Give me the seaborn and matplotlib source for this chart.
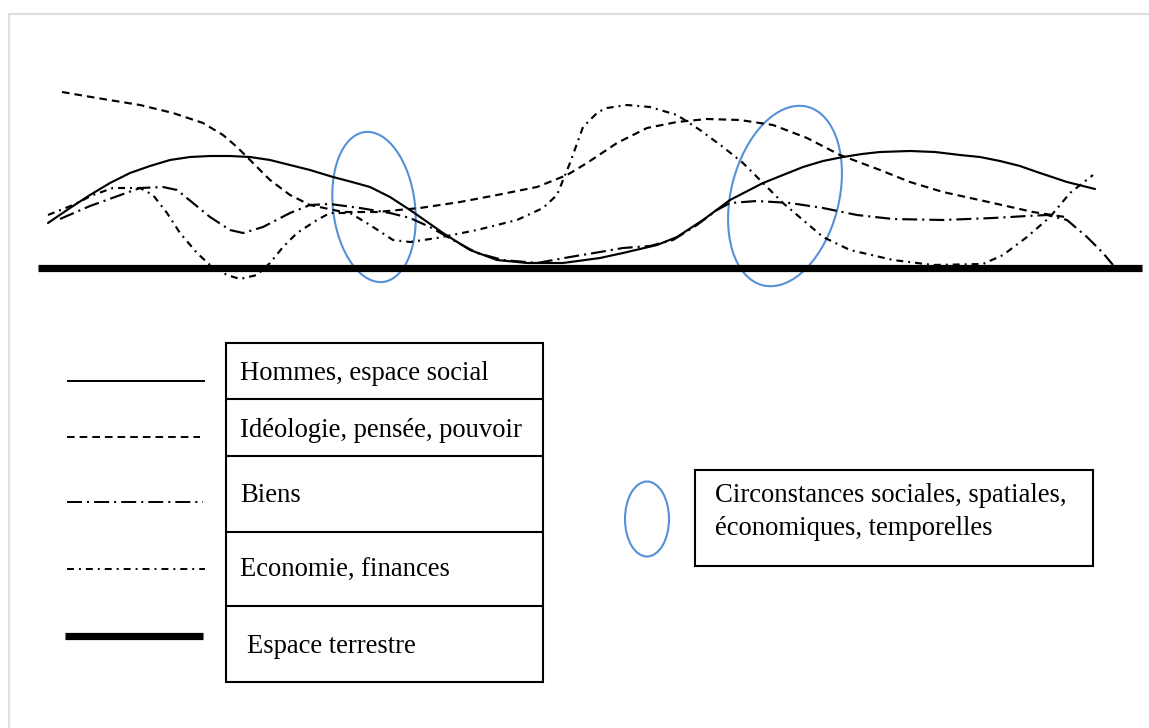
import numpy as np
import pandas as pd
import matplotlib
matplotlib.use("Agg")
import matplotlib.pyplot as plt
from matplotlib.patches import Ellipse, Rectangle
import seaborn as sns

# curve points (pixel coords, y downwards)
hommes_x = [48, 70, 90, 110, 130, 150, 170, 190, 210, 230, 250, 270, 290, 310, 333, 352, 370,
            390, 413, 443, 470, 497, 527, 563, 600, 623, 657, 677, 703, 730, 763, 783, 803, 823,
            843, 862, 880, 910, 935, 960, 980, 1000, 1020, 1037, 1067, 1095]
hommes_y = [223, 208, 195, 183, 173, 166, 160, 157, 156, 156, 157, 160, 165, 170, 177, 182, 187,
            197, 212, 233, 250, 260, 263, 263, 258, 253, 245, 237, 220, 200, 183, 175, 167, 161,
            157, 154, 152, 151, 152, 155, 157, 161, 166, 172, 182, 189]

ideo_x = [62, 97, 140, 173, 203, 223, 237, 250, 270, 290, 310, 343, 377, 420, 460, 497, 537,
          567, 587, 617, 647, 677, 707, 740, 773, 807, 840, 880, 910, 943, 993, 1033, 1065]
ideo_y = [92, 98, 105, 113, 123, 135, 147, 160, 180, 195, 205, 212, 212, 208, 202, 195, 187,
          175, 163, 143, 128, 122, 119, 120, 125, 138, 155, 170, 182, 192, 203, 212, 217]

biens_x = [60, 90, 115, 140, 163, 177, 193, 210, 230, 243, 263, 290, 310, 330, 360, 390, 410,
           430, 453, 477, 503, 537, 570, 600, 623, 650, 673, 697, 717, 730, 757, 790, 823, 857,
           893, 943, 993, 1027, 1047, 1067, 1087, 1103, 1113]
biens_y = [219, 206, 197, 188, 187, 190, 203, 217, 230, 233, 227, 213, 205, 204, 208, 213, 218,
           227, 240, 253, 260, 263, 257, 252, 248, 246, 240, 225, 210, 203, 201, 203, 208, 215,
           219, 220, 218, 216, 215, 220, 237, 253, 265]

eco_x = [48, 73, 93, 113, 140, 153, 167, 180, 197, 210, 227, 240, 257, 270, 283, 297, 317, 330,
         350, 370, 393, 410, 437, 477, 517, 543, 557, 570, 583, 598, 607, 627, 650, 677, 700,
         723, 743, 763, 783, 803, 823, 850, 893, 933, 983, 1003, 1027, 1050, 1070, 1093]
eco_y = [215, 205, 195, 188, 188, 195, 213, 233, 253, 265, 275, 279, 275, 263, 247, 233, 220, 213,
         213, 225, 240, 242, 238, 230, 220, 208, 195, 163, 127, 112, 108, 105, 107, 115, 130,
         147, 163, 183, 203, 220, 237, 250, 260, 265, 264, 255, 237, 217, 193, 175]

ground_x = [38, 1142]
ground_y = [268, 268]

labels = ["Hommes, espace social", "Idéologie, pensée, pouvoir", "Biens",
          "Economie, finances", "Espace terrestre"]
circ_lines = ["Circonstances sociales, spatiales,", "économiques, temporelles"]

sns.set_style("white")
plt.rcParams["font.family"] = ["Liberation Serif", "DejaVu Serif"]
plt.rcParams["lines.scale_dashes"] = False
plt.rcParams["text.color"] = "black"

fig = plt.figure(figsize=(11.49, 7.28), dpi=100)
ax = fig.add_axes([0, 0, 1, 1])

dash_ideo = (0, (5.5, 3.6))
dash_biens = (0, (10.8, 3.6, 1.5, 3.6))
dash_eco = (0, (5.0, 3.6, 1.4, 3.6))
styles = ["-", dash_ideo, dash_biens, dash_eco]

series = [(hommes_x, hommes_y), (ideo_x, ideo_y), (biens_x, biens_y), (eco_x, eco_y)]
for (xs, ys), ls in zip(series, styles):
    df = pd.DataFrame({"x": xs, "y": ys})
    sns.lineplot(data=df, x="x", y="y", ax=ax, color="black", linewidth=1.55,
                 linestyle=ls, estimator=None, sort=False)

sns.lineplot(x=ground_x, y=ground_y, ax=ax, color="black", linewidth=5.2,
             solid_capstyle="butt", estimator=None)
ax.set_xlim(0, 1149)
ax.set_ylim(728, 0)
ax.axis("off")

# circumstance ellipses
blue = "#5590d8"
ax.add_patch(Ellipse((374, 207), 82, 151, angle=-7, fill=False, ec=blue, lw=1.5))
ax.add_patch(Ellipse((785, 196), 108, 184, angle=14, fill=False, ec=blue, lw=1.5))

# grey page border
ax.plot([9, 9, 1149], [728, 14, 14], color="#dedede", lw=1.6, solid_capstyle="butt")

# legend table
rows = [343, 399, 456, 532, 606, 682]
ax.add_patch(Rectangle((226, rows[0]), 543 - 226, rows[-1] - rows[0], fill=False, ec="black", lw=1.5))
for r in rows[1:-1]:
    ax.plot([226, 543], [r, r], color="black", lw=1.5)

leg_y = [381, 437, 502, 569, 636]
leg_x = [(67, 205), (67, 200), (67, 203), (67, 205), (65, 203)]
leg_styles = styles + ["-"]
leg_lw = [1.4, 1.4, 1.4, 1.4, 5.2]
for (x0, x1), yy, ls, lw in zip(leg_x, leg_y, leg_styles, leg_lw):
    ax.plot([x0, x1], [yy, yy], color="black", lw=lw, linestyle=ls, solid_capstyle="butt")

text_base = [380, 437, 502, 577, 653]
text_x = [240, 240, 240, 240, 247]
for lab, tx, ty in zip(labels, text_x, text_base):
    ax.text(tx, ty, lab, fontsize=19.2, va="baseline", ha="left", color="black")

# circumstances legend
ax.add_patch(Ellipse((647, 519), 44, 75, fill=False, ec=blue, lw=1.5))
ax.add_patch(Rectangle((695, 470), 1093 - 695, 566 - 470, fill=False, ec="black", lw=1.5))
ax.text(715, 502, circ_lines[0], fontsize=19.2, va="baseline", ha="left", color="black")
ax.text(715, 535, circ_lines[1], fontsize=19.2, va="baseline", ha="left", color="black")

fig.savefig("out.png", dpi=100)
